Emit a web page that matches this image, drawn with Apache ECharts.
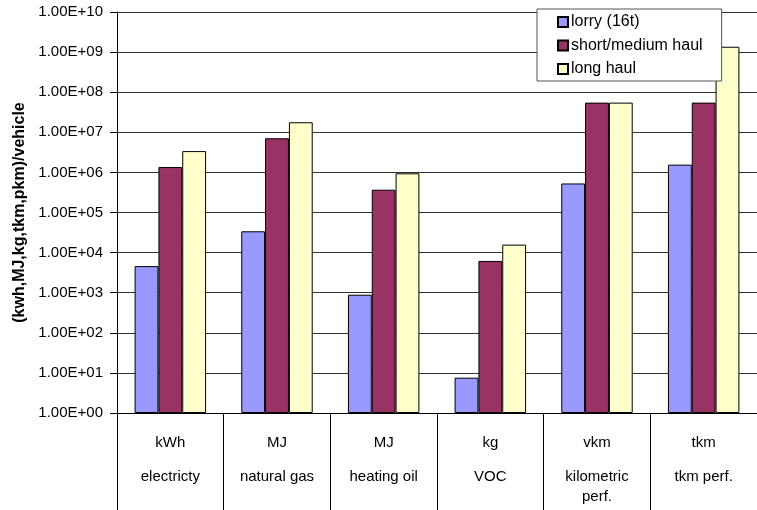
<!DOCTYPE html>
<html>
<head>
<meta charset="utf-8">
<script src="https://cdn.jsdelivr.net/npm/echarts@6/dist/echarts.min.js"></script>
<style>html,body{margin:0;padding:0;background:#fff;}#c{width:757px;height:510px;}</style>
</head>
<body>
<div id="c"></div>
<script>
const units = ['kWh', 'MJ', 'MJ', 'kg', 'vkm', 'tkm'];
const names = ['electricty', 'natural gas', 'heating oil', 'VOC', 'kilometric\nperf.', 'tkm perf.'];
const seriesNames = ['lorry (16t)', 'short/medium haul', 'long haul'];
const lorry = [4600, 34000, 890, 7.6, 530000, 1560000];
const shortMedium = [1360000, 7100000, 370000, 6200, 55000000, 55000000];
const longHaul = [3400000, 17800000, 950000, 15800, 55000000, 1360000000];
const colors = ['#9999FF', '#993366', '#FFFFCC'];

const categories = units.map((u, i) => u + '|' + names[i]);
const font = 'Liberation Sans, Arial, sans-serif';

const chart = echarts.init(document.getElementById('c'), null, {renderer: 'canvas'});
const mk = (name, data, color) => ({
  name: name, type: 'bar', data: data,
  barGap: '0%', barCategoryGap: '33%',
  itemStyle: {color: color, borderColor: '#000', borderWidth: 1},
  emphasis: {disabled: true}
});
chart.setOption({
  animation: false,
  backgroundColor: '#fff',
  textStyle: {fontFamily: font},
  grid: {left: 117, top: 12, width: 650, height: 401, containLabel: false},
  legend: {
    orient: 'vertical', left: 537, top: 9,
    itemWidth: 10, itemHeight: 10, itemGap: 7.5,
    padding: [5, 19, 4, 20],
    backgroundColor: '#fff', borderColor: '#555', borderWidth: 1,
    textStyle: {fontFamily: font, fontSize: 16, color: '#000', lineHeight: 16, padding: [0, 0, 0, -2]},
    data: seriesNames.map(n => ({name: n, icon: 'rect'}))
  },
  xAxis: {
    type: 'category', data: categories,
    axisLine: {lineStyle: {color: '#000', width: 1}},
    axisTick: {show: true, length: 97, interval: 0, lineStyle: {color: '#000'}},
    axisLabel: {
      interval: 0, margin: 6, color: '#000', fontFamily: font, fontSize: 15,
      formatter: function (v) {
        const p = v.split('|');
        return '{u|' + p[0] + '}\n' + p[1].split('\n').map(s => '{n|' + s + '}').join('\n');
      },
      rich: {
        u: {fontFamily: font, fontSize: 15, color: '#000', lineHeight: 48},
        n: {fontFamily: font, fontSize: 15, color: '#000', lineHeight: 20}
      }
    }
  },
  yAxis: {
    type: 'log', logBase: 10, min: 1, max: 1e10, interval: 1,
    name: '(kwh,MJ,kg,tkm,pkm)/vehicle', nameLocation: 'middle', nameGap: 84,
    nameTextStyle: {fontFamily: font, fontSize: 16, fontWeight: 'bold', color: '#000'},
    axisLine: {show: true, lineStyle: {color: '#000', width: 1}},
    axisTick: {show: true, inside: false, length: 7, lineStyle: {color: '#000'}},
    axisLabel: {
      margin: 14, color: '#000', fontFamily: font, fontSize: 15,
      formatter: function (v) {
        const e = Math.round(Math.log10(v));
        return '1.00E+' + (e < 10 ? '0' : '') + e;
      }
    },
    splitLine: {show: true, lineStyle: {color: '#333', width: 1}}
  },
  series: [
    mk(seriesNames[0], lorry, colors[0]),
    mk(seriesNames[1], shortMedium, colors[1]),
    mk(seriesNames[2], longHaul, colors[2])
  ]
});
</script>
</body>
</html>
